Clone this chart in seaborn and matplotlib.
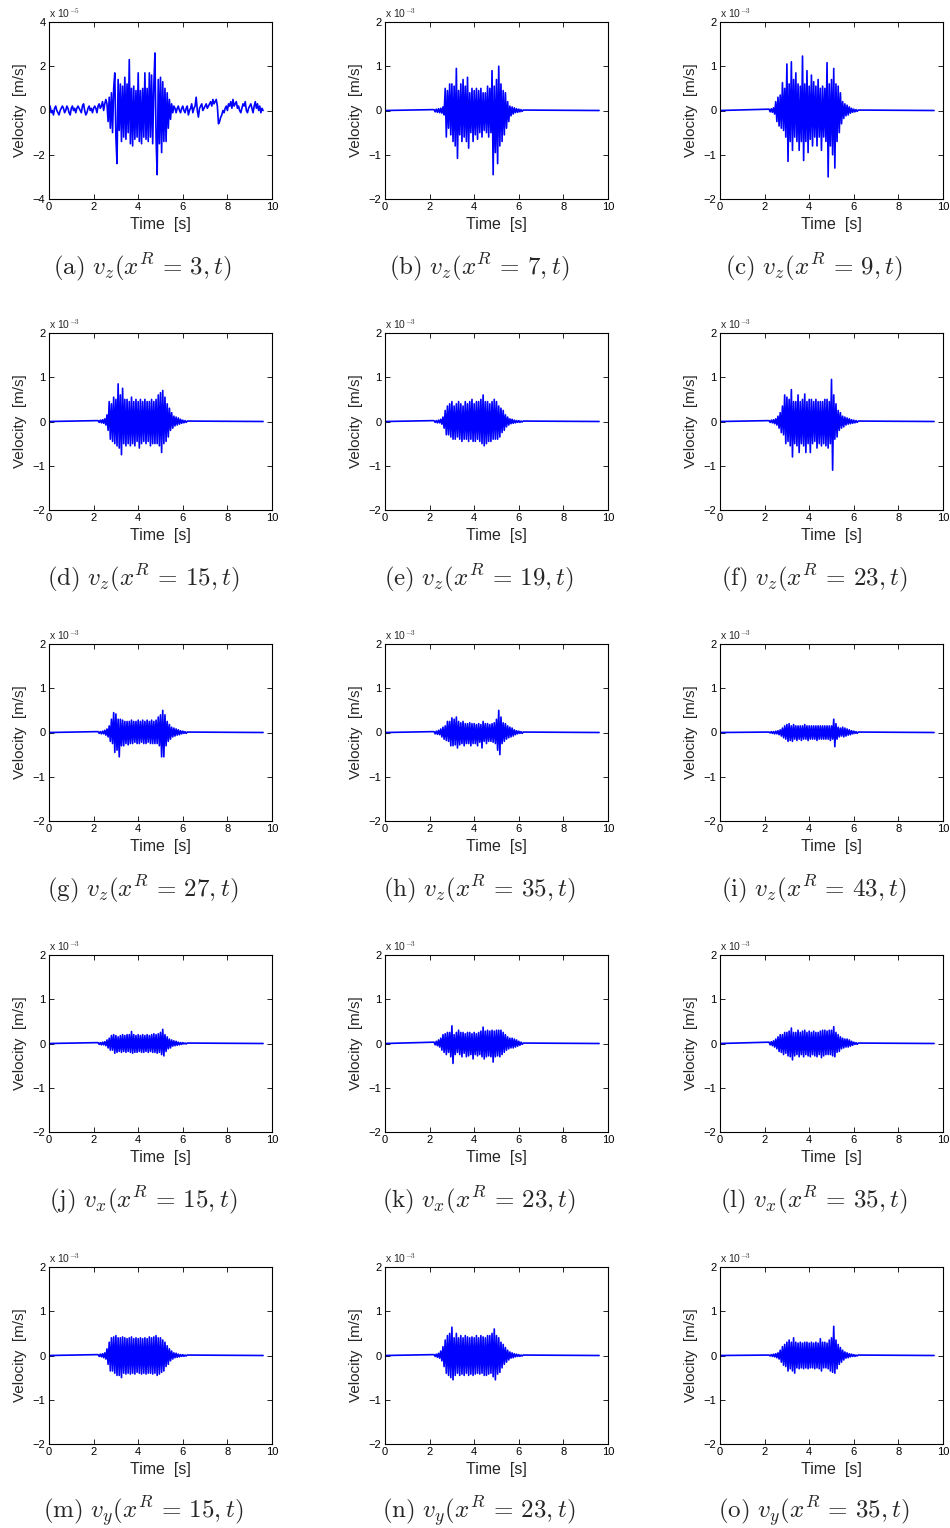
import numpy as np
import matplotlib
matplotlib.use("Agg")
import matplotlib.pyplot as plt
import seaborn as sns
from matplotlib.ticker import FuncFormatter

sns.set_style("ticks")
plt.rcParams['font.family'] = ['Liberation Sans', 'DejaVu Sans']
plt.rcParams['mathtext.fontset'] = 'cm'

# ---------------- data ----------------
DT = 0.05            # sample spacing of the typed traces [s]
T_END = 9.6          # traces stop here [s]

# (a) v_z at x^R = 3, whole record from t = 0, units of 1e-6 m/s
VZ_3 = [1, 2, -1, 0, -2, 1, 2, 0, -1, -2,
        0, 1, 2, 1, -1, 0, 2, 1, -1, -2,
        1, 2, 0, 1, -1, 1, 2, 1, 0, -1,
        2, 3, 0, -2, -1, 1, 2, 0, 1, -1,
        1, 2, 1, -1, 2, 3, 1, 2, 4, 0,
        3, 5,
        3, -5, 6, -8, 8, -10, 10, 17, -12, -24,
        14, -9, 12, -14, 11, -12, 15, -13, 12, -10,
        23, -15, 10, -16, 11, -13, 9, -12, 17, -14,
        9, -15, 10, -12, 17, -13, 10, -14, 17, -12,
        16, -15, 11, 26, -12, -29, 14, -15, 15, -19,
        13, -14, 10, -14, 8, -8, 5, -4, 3,
        -1, 2, 1, -1, 1, 2, 0, -1, 1, 2,
        0, -1, 1, 2, -2, 0, 1, 3, -1, 1,
        2, 6, 0, -3, 1, 2, 3, 0, 1, 2,
        3, 1, 2, 3, 4, 2, 5, 3, 4, 5,
        2, -6, -5, -3, -2, 0, -1, 1, 2, 0,
        3, 2, 4, 1, 5, 2, 3, 4, 1, 2,
        0, -1, 1, 3, 2, 4, 0, -1, 1, 2,
        3, 1, -1, 2, 4, 1, 3, 0, 2, -1, 1, 0]

# the other traces: burst window starting at 2.2 s, units of 1e-5 m/s
BURST_START = 2.2

VZ_7 = [2, -3, 3, -4, 4, -5, 5, -6, 8, -10,
        50, -60, 45, -40, 60, -55, 60, -70, 55, -80,
        95, -108, 45, -55, 60, -70, 70, -60, 55, -70,
        75, -85, 40, -50, 50, -70, 45, -55, 50, -65,
        45, -50, 50, -60, 40, -45, 40, -50, 55, -60,
        50, -50, 90, -145, 55, -95, 70, -120, 100, -80,
        60, -70, 45, -55, 40, -40, 20, -25, 10, -12,
        8, -8, 6, -5, 4, -4, 3, -3, 2, -2, 1]

VZ_9 = [3, -3, 4, -4, 6, -8, 20, -25, 30, -35,
        35, -40, 63, -45, 50, -60, 105, -115, 60, -70,
        110, -90, 70, -60, 85, -70, 60, -90, 55, -70,
        123, -113, 60, -70, 90, -95, 55, -65, 80, -80,
        65, -60, 55, -80, 70, -60, 50, -90, 55, -60,
        50, -70, 108, -150, 60, -80, 70, -100, 95, -130,
        60, -70, 55, -50, 40, -30, 20, -18, 15, -12,
        12, -10, 8, -6, 5, -4, 3, -3, 2, -2, 1]

VZ_15 = [2, -2, 3, -3, 4, -4, 6, -8, 15, -20,
         45, -40, 40, -45, 55, -50, 50, -55, 85, -60,
         60, -75, 75, -50, 50, -55, 50, -50, 45, -55,
         55, -50, 45, -55, 50, -45, 45, -60, 50, -50,
         45, -45, 50, -50, 45, -45, 45, -55, 50, -50,
         45, -50, 50, -50, 60, -55, 65, -70, 70, -50,
         55, -45, 40, -35, 30, -20, 20, -15, 12, -10,
         10, -8, 8, -6, 5, -4, 3, -3, 2, -2, 1]

VZ_19 = [2, -2, 2, -3, 3, -3, 5, -6, 10, -15,
         25, -30, 35, -30, 40, -35, 45, -40, 35, -40,
         40, -35, 45, -40, 40, -45, 35, -40, 45, -40,
         40, -45, 45, -40, 50, -45, 40, -45, 45, -40,
         45, -45, 50, -50, 60, -55, 45, -50, 45, -45,
         40, -45, 45, -40, 50, -40, 45, -40, 35, -35,
         30, -25, 25, -20, 15, -12, 10, -8, 6, -5,
         5, -4, 3, -3, 2, -2, 2, -2, 1, -1, 1]

VZ_23 = [2, -2, 3, -3, 4, -5, 6, -8, 12, -15,
         20, -25, 35, -30, 60, -50, 55, -45, 50, -55,
         72, -80, 45, -50, 45, -55, 60, -70, 45, -50,
         50, -55, 62, -70, 45, -50, 50, -70, 50, -50,
         45, -45, 50, -60, 45, -50, 45, -55, 45, -50,
         50, -55, 50, -60, 45, -50, 95, -110, 60, -40,
         40, -35, 25, -20, 20, -15, 12, -12, 10, -8,
         8, -6, 6, -5, 4, -4, 3, -3, 2, -2, 1]

VZ_27 = [2, -2, 2, -3, 3, -3, 5, -6, 8, -10,
         15, -20, 30, -25, 45, -45, 42, -40, 30, -55,
         30, -30, 28, -30, 25, -25, 25, -28, 25, -25,
         28, -25, 25, -22, 25, -25, 28, -25, 25, -22,
         28, -25, 25, -25, 28, -22, 25, -25, 28, -25,
         25, -25, 28, -25, 35, -30, 40, -55, 50, -55,
         40, -30, 25, -20, 18, -15, 12, -10, 10, -8,
         8, -6, 6, -5, 4, -3, 3, -2, 2, -2, 1]

VZ_35 = [2, -3, 3, -4, 5, -5, 8, -10, 12, -15,
         15, -18, 25, -20, 25, -30, 33, -30, 30, -28,
         35, -35, 25, -28, 22, -25, 25, -30, 20, -25,
         20, -25, 22, -30, 20, -25, 20, -25, 18, -30,
         20, -22, 18, -35, 25, -20, 20, -25, 20, -20,
         18, -20, 20, -22, 22, -25, 30, -40, 50, -50,
         35, -25, 22, -20, 20, -15, 15, -12, 12, -10,
         10, -8, 6, -5, 4, -3, 3, -2, 2, -2, 1]

VZ_43 = [1, -1, 2, -2, 2, -3, 3, -3, 4, -5,
         6, -8, 10, -12, 15, -15, 18, -20, 20, -18,
         15, -20, 18, -15, 15, -18, 15, -15, 15, -18,
         15, -15, 18, -15, 15, -18, 15, -15, 15, -15,
         15, -15, 15, -18, 15, -15, 15, -15, 15, -15,
         15, -15, 15, -15, 15, -18, 15, -15, 30, -32,
         20, -15, 12, -10, 10, -8, 12, -10, 10, -8,
         8, -6, 6, -5, 4, -3, 3, -2, 2, -2, 1]

VX_15 = [2, -2, 2, -3, 3, -3, 4, -5, 8, -10,
         12, -15, 18, -15, 20, -22, 18, -20, 15, -18,
         18, -20, 20, -18, 18, -20, 20, -18, 20, -20,
         27, -22, 20, -20, 18, -20, 20, -18, 18, -20,
         20, -20, 18, -18, 20, -20, 18, -18, 20, -20,
         22, -20, 20, -22, 22, -20, 25, -25, 32, -28,
         20, -18, 15, -12, 10, -10, 8, -6, 6, -5,
         5, -4, 3, -3, 2, -2, 2, -1, 1, -1, 1]

VX_23 = [3, -3, 5, -5, 8, -8, 12, -15, 20, -20,
         22, -25, 25, -20, 25, -30, 40, -45, 20, -25,
         25, -20, 30, -25, 25, -30, 25, -22, 22, -30,
         25, -28, 25, -25, 22, -35, 25, -25, 22, -28,
         25, -25, 28, -30, 37, -35, 28, -30, 30, -28,
         28, -30, 30, -42, 28, -30, 30, -28, 30, -30,
         30, -25, 25, -20, 20, -15, 15, -12, 12, -10,
         12, -10, 10, -8, 8, -6, 5, -4, 3, -2, 1]

VX_35 = [3, -3, 4, -5, 6, -8, 10, -12, 15, -18,
         20, -20, 20, -25, 25, -22, 25, -28, 28, -30,
         35, -37, 25, -28, 25, -25, 30, -30, 25, -25,
         28, -30, 30, -25, 25, -28, 28, -30, 25, -25,
         28, -28, 25, -30, 25, -25, 28, -32, 30, -28,
         30, -25, 28, -25, 30, -25, 30, -28, 38, -30,
         25, -20, 20, -18, 15, -12, 12, -10, 10, -8,
         10, -8, 8, -6, 5, -4, 3, -2, 2, -2, 1]

VY_15 = [2, -2, 3, -3, 4, -5, 6, -8, 15, -20,
         30, -35, 40, -35, 42, -40, 45, -45, 40, -45,
         40, -50, 42, -40, 40, -42, 38, -40, 40, -42,
         42, -40, 38, -42, 40, -38, 38, -40, 40, -42,
         38, -40, 40, -42, 38, -40, 42, -40, 40, -42,
         42, -40, 45, -45, 40, -42, 40, -38, 35, -35,
         30, -25, 22, -20, 15, -12, 10, -8, 6, -5,
         5, -4, 3, -3, 2, -2, 2, -2, 1, -1, 1]

VY_23 = [2, -2, 3, -4, 5, -6, 10, -12, 20, -25,
         35, -40, 45, -45, 50, -50, 64, -55, 40, -45,
         50, -40, 40, -45, 45, -42, 40, -45, 45, -40,
         42, -45, 40, -42, 42, -45, 40, -42, 45, -40,
         40, -42, 45, -40, 42, -45, 40, -45, 45, -42,
         45, -40, 50, -48, 60, -55, 45, -42, 40, -38,
         30, -28, 25, -20, 18, -15, 12, -10, 8, -6,
         6, -5, 4, -3, 3, -2, 2, -2, 1, -1, 1]

VY_35 = [1, -1, 2, -2, 3, -3, 4, -5, 6, -8,
         12, -15, 20, -22, 25, -25, 30, -35, 35, -30,
         30, -35, 40, -40, 30, -28, 28, -30, 30, -28,
         28, -30, 30, -28, 30, -30, 28, -28, 30, -28,
         28, -30, 30, -28, 28, -30, 38, -35, 30, -28,
         30, -28, 28, -30, 35, -35, 40, -38, 66, -40,
         35, -30, 25, -20, 18, -15, 12, -10, 8, -6,
         6, -5, 4, -3, 3, -2, 2, -2, 1, -1, 1]

LETTERS = list("abcdefghijklmno")
COMPONENTS = ["z"] * 9 + ["x"] * 3 + ["y"] * 3
RECEIVERS = [3, 7, 9, 15, 19, 23, 27, 35, 43, 15, 23, 35, 15, 23, 35]
TRACES = [VZ_3, VZ_7, VZ_9, VZ_15, VZ_19, VZ_23, VZ_27, VZ_35, VZ_43,
          VX_15, VX_23, VX_35, VY_15, VY_23, VY_35]

X_TICKS = [0, 2, 4, 6, 8, 10]


# --------------------- helpers ---------------------

def _trace(i):
    """Return time and velocity [m/s] of trace i."""
    vals = np.asarray(TRACES[i], dtype=float)
    if i == 0:
        t = DT * np.arange(len(vals))
        return t, vals * 1e-6
    t = BURST_START + DT * np.arange(len(vals))
    t = np.concatenate([[0.0], t, [T_END]])
    v = np.concatenate([[0.0], vals, [0.0]]) * 1e-5
    return t, v


def _style_axis(ax, exp, lim):
    scale = 10.0 ** exp
    ax.set_xlim(0, 10)
    ax.set_ylim(-lim * scale, lim * scale)
    ax.set_xticks(X_TICKS)
    ax.set_yticks([k * scale for k in np.arange(-lim, lim + 1, lim // 2)])
    ax.yaxis.set_major_formatter(
        FuncFormatter(lambda v, p: f"{v / scale:.0f}".replace("-", "\u2212")))
    ax.tick_params(direction="in", top=True, right=True, length=3.5,
                   width=0.6, labelsize=8, pad=2.5, colors="black")
    for s in ax.spines.values():
        s.set_linewidth(0.8)
        s.set_color("black")
    ax.set_xlabel("Time  [s]", fontsize=11.5, labelpad=3.5)
    ax.set_ylabel("Velocity  [m/s]", fontsize=11, labelpad=4)
    ax.text(0.0, 1.012, r"x 10$^{%d}$" % exp, transform=ax.transAxes,
            fontsize=7.5, ha="left", va="bottom")


# --------------------- figure ---------------------
W, H = 950, 1528
fig = plt.figure(figsize=(W / 100, H / 100), dpi=100)

col_left = [49, 385, 720]
row_top = [22, 333, 644, 955, 1267]
ax_w, ax_h = 223, 177

for i in range(15):
    r, c = divmod(i, 3)
    left, top = col_left[c], row_top[r]
    ax = fig.add_axes([left / W, 1 - (top + ax_h) / H, ax_w / W, ax_h / H])
    t, v = _trace(i)
    sns.lineplot(x=t, y=v, ax=ax, color="blue", linewidth=1.2,
                 estimator=None, sort=False)
    if i == 0:
        _style_axis(ax, -5, 4)
    else:
        _style_axis(ax, -3, 2)

    caption = r"$\mathrm{(%s)}\ v_%s(x^R\,=\,%d,t)$" % (
        LETTERS[i], COMPONENTS[i], RECEIVERS[i])
    fig.text((left + 94) / W, 1 - (top + 245) / H, caption,
             fontsize=18, ha="center", va="center")

fig.savefig("out.png", dpi=100)
